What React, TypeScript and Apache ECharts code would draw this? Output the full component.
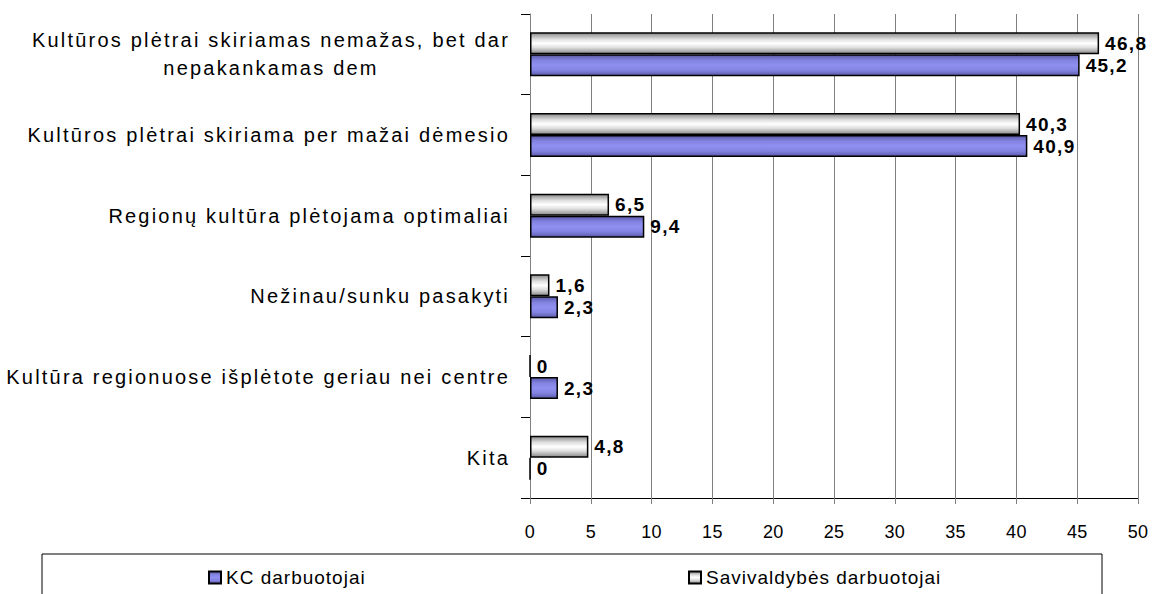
import React, { useEffect, useRef } from "react";
import * as echarts from "echarts";

const categories = [
  "Kultūros plėtrai skiriamas nemažas, bet dar\nnepakankamas dem",
  "Kultūros plėtrai skiriama per mažai dėmesio",
  "Regionų kultūra plėtojama optimaliai",
  "Nežinau/sunku pasakyti",
  "Kultūra regionuose išplėtote geriau nei centre",
  "Kita",
];
const kcValues = [45.2, 40.9, 9.4, 2.3, 2.3, 0];
const savValues = [46.8, 40.3, 6.5, 1.6, 0, 4.8];
const xTicks = { min: 0, max: 50, interval: 5 };
const seriesNames = ["KC darbuotojai", "Savivaldybės darbuotojai"];

const FONT = "Liberation Sans, Arial, sans-serif";

const blueGrad = new echarts.graphic.LinearGradient(0, 0, 0, 1, [
  { offset: 0, color: "#5a5aa8" },
  { offset: 0.25, color: "#8282e0" },
  { offset: 0.5, color: "#9090f2" },
  { offset: 0.75, color: "#8282e0" },
  { offset: 1, color: "#5a5aa8" },
]);
const greyGrad = new echarts.graphic.LinearGradient(0, 0, 0, 1, [
  { offset: 0, color: "#8a8a8a" },
  { offset: 0.3, color: "#e0e0e0" },
  { offset: 0.5, color: "#ffffff" },
  { offset: 0.7, color: "#e0e0e0" },
  { offset: 1, color: "#8a8a8a" },
]);

const fmt = (p: any) => String(p.value).replace(".", ",");

const css = `
.ecroot text { letter-spacing: 1px; }
.ecroot text[style*="20px"] { letter-spacing: 2.2px; }
.ecroot text[style*="18px"] { letter-spacing: 0.3px; }
.ecroot text[style*="bold"] { letter-spacing: 1.3px; }
`;

export default function App() {
  const ref = useRef<HTMLDivElement>(null);
  useEffect(() => {
    if (!ref.current) return;
    const chart = echarts.init(ref.current, null, { renderer: "svg" });
    const labelCfg = {
      show: true,
      position: "right" as const,
      distance: 6,
      formatter: fmt,
      fontFamily: FONT,
      fontSize: 19,
      fontWeight: "bold" as const,
      color: "#000",
    };
    const legendText = { fontFamily: FONT, fontSize: 19, color: "#000" };
    chart.setOption({
      animation: false,
      backgroundColor: "#fff",
      grid: { left: 530, right: 16, top: 14, bottom: 96, containLabel: false },
      xAxis: {
        type: "value",
        min: xTicks.min,
        max: xTicks.max,
        interval: xTicks.interval,
        axisLine: { show: true, lineStyle: { color: "#000", width: 1 } },
        axisTick: { show: true, length: 6, lineStyle: { color: "#808080" } },
        splitLine: { show: true, lineStyle: { color: "#808080", width: 1 } },
        axisLabel: { fontFamily: FONT, fontSize: 18, color: "#000", margin: 25 },
      },
      yAxis: {
        type: "category",
        data: categories,
        inverse: true,
        axisLine: { show: true, lineStyle: { color: "#808080", width: 1 } },
        axisTick: { show: true, length: 9, lineStyle: { color: "#000" } },
        axisLabel: {
          fontFamily: FONT,
          fontSize: 20,
          color: "#000",
          margin: 20,
          lineHeight: 28,
          formatter: (v: string) =>
            v.includes("\n")
              ? v
                  .split("\n")
                  .map((l) => `{c|${l}}`)
                  .join("\n")
              : v,
          rich: {
            c: {
              width: 478,
              align: "center",
              fontFamily: FONT,
              fontSize: 20,
              color: "#000",
              lineHeight: 28,
            },
          },
        },
      },
      legend: [
        {
          data: [seriesNames[0]],
          left: 203,
          top: 563,
          icon: "rect",
          itemWidth: 12,
          itemHeight: 12,
          itemGap: 8,
          textStyle: legendText,
        },
        {
          data: [seriesNames[1]],
          left: 683,
          top: 563,
          icon: "rect",
          itemWidth: 12,
          itemHeight: 12,
          itemGap: 8,
          textStyle: legendText,
        },
      ],
      graphic: [
        {
          type: "rect",
          shape: { x: 42, y: 554, width: 1060, height: 60 },
          style: { fill: "none", stroke: "#000", lineWidth: 1 },
          silent: true,
        },
      ],
      series: [
        {
          name: seriesNames[1],
          type: "bar",
          data: savValues,
          barWidth: 22,
          barGap: "0%",
          itemStyle: { color: greyGrad, borderColor: "#000", borderWidth: 1.5 },
          label: labelCfg,
        },
        {
          name: seriesNames[0],
          type: "bar",
          data: kcValues,
          barWidth: 22,
          barGap: "0%",
          itemStyle: { color: blueGrad, borderColor: "#000", borderWidth: 1.5 },
          label: labelCfg,
        },
      ],
    });
    return () => chart.dispose();
  }, []);
  return (
    <>
      <style>{css}</style>
      <div
        ref={ref}
        className="ecroot"
        style={{ position: "absolute", left: 0, top: 0, width: 1154, height: 594 }}
      />
    </>
  );
}
